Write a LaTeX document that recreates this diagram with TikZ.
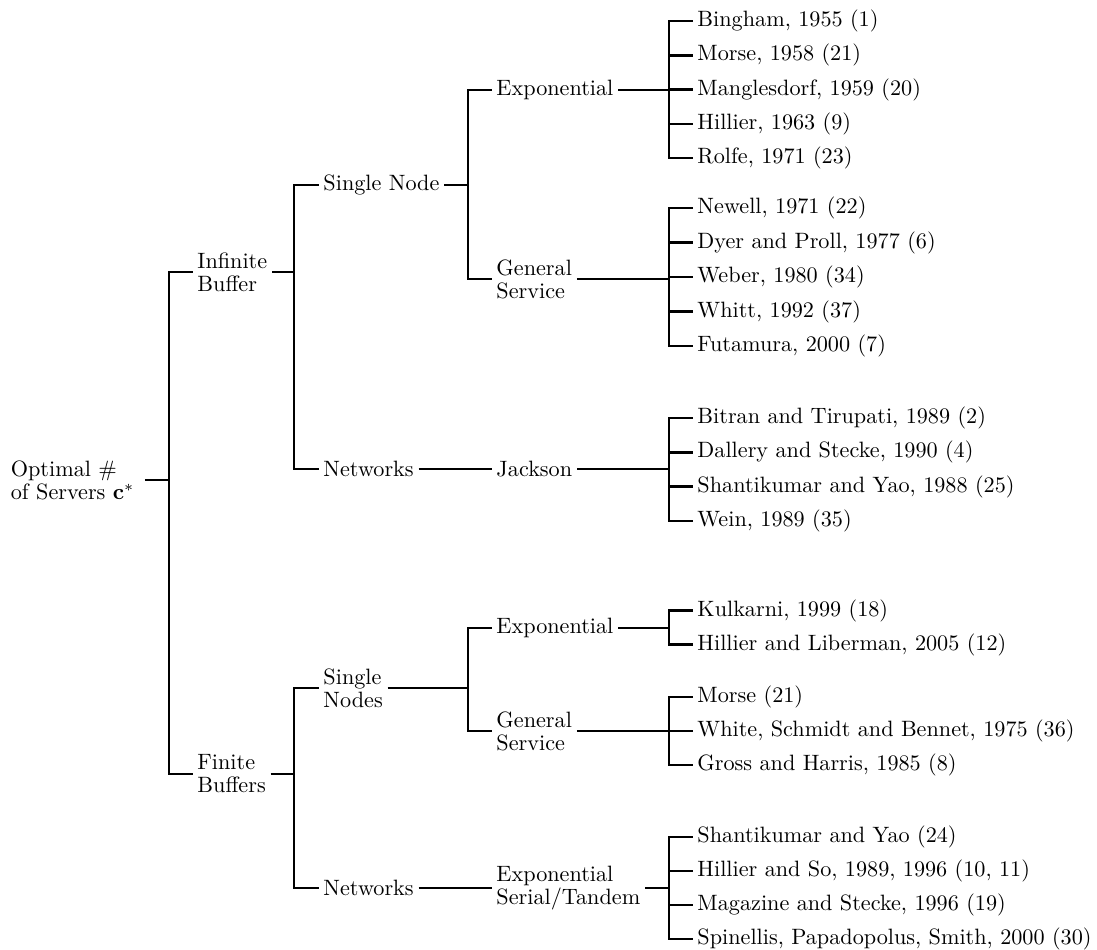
\documentclass[tikz,border=0pt]{standalone}
\begin{document}
\begin{tikzpicture}[x=0.4505pt,y=-0.4505pt,
  lab/.style={anchor=west,inner xsep=2pt,inner ysep=0pt,align=left,font=\fontsize{10}{10.4}\selectfont},
  conn/.style={line width=1.1pt}]
\useasboundingbox (0,0) rectangle (1097,949);
% root and level 1
\node[lab] (root) at (6,480) {Optimal \#\\of Servers $\mathbf{c}^*$};
\coordinate (root-s) at (169,480);
\node[lab] (ib) at (192.6,272) {Infinite\\Buffer};
\coordinate (ib-s) at (294,272);
\node[lab] (fb) at (192.6,774) {Finite\\Buffers};
\coordinate (fb-s) at (294,774);
% level 2 (infinite)
\node[lab] (sn) at (318.6,185) {Single Node};
\coordinate (sn-s) at (468,185);
\node[lab] (nw) at (318.6,469) {Networks};
\coordinate (nw-s) at (468,469);
% level 2 (finite)
\node[lab] (sns) at (318.6,688) {Single\\Nodes};
\coordinate (sns-s) at (468,688);
\node[lab] (nw2) at (318.6,888) {Networks};
\coordinate (nw2-s) at (468,888);
% level 3
\node[lab] (ex) at (491.6,90) {Exponential};
\coordinate (ex-s) at (669,90);
\node[lab] (gs) at (491.6,279) {General\\Service};
\coordinate (gs-s) at (669,279);
\node[lab] (jk) at (491.6,469) {Jackson};
\coordinate (jk-s) at (669,469);
\node[lab] (ex2) at (491.6,628) {Exponential};
\coordinate (ex2-s) at (669,628);
\node[lab] (gs2) at (491.6,731) {General\\Service};
\coordinate (gs2-s) at (669,731);
\node[lab] (est) at (491.6,888) {Exponential\\Serial/Tandem};
\coordinate (est-s) at (669,888);
% leaves
\node[lab] (l1) at (692.6,21) {Bingham, 1955 (1)};
\node[lab] (l2) at (692.6,55.3) {Morse, 1958 (21)};
\node[lab] (l3) at (692.6,89.6) {Manglesdorf, 1959 (20)};
\node[lab] (l4) at (692.6,123.9) {Hillier, 1963 (9)};
\node[lab] (l5) at (692.6,158.2) {Rolfe, 1971 (23)};
\node[lab] (l6) at (692.6,208) {Newell, 1971 (22)};
\node[lab] (l7) at (692.6,242.5) {Dyer and Proll, 1977 (6)};
\node[lab] (l8) at (692.6,277) {Weber, 1980 (34)};
\node[lab] (l9) at (692.6,311.5) {Whitt, 1992 (37)};
\node[lab] (l10) at (692.6,346) {Futamura, 2000 (7)};
\node[lab] (l11) at (692.6,418) {Bitran and Tirupati, 1989 (2)};
\node[lab] (l12) at (692.6,452.3) {Dallery and Stecke, 1990 (4)};
\node[lab] (l13) at (692.6,486.6) {Shantikumar and Yao, 1988 (25)};
\node[lab] (l14) at (692.6,520.9) {Wein, 1989 (35)};
\node[lab] (l15) at (692.6,610.5) {Kulkarni, 1999 (18)};
\node[lab] (l16) at (692.6,644.5) {Hillier and Liberman, 2005 (12)};
\node[lab] (l17) at (692.6,697) {Morse (21)};
\node[lab] (l18) at (692.6,731) {White, Schmidt and Bennet, 1975 (36)};
\node[lab] (l19) at (692.6,765) {Gross and Harris, 1985 (8)};
\node[lab] (l20) at (692.6,837) {Shantikumar and Yao (24)};
\node[lab] (l21) at (692.6,871) {Hillier and So, 1989, 1996 (10, 11)};
\node[lab] (l22) at (692.6,905) {Magazine and Stecke, 1996 (19)};
\node[lab] (l23) at (692.6,939) {Spinellis, Papadopolus, Smith, 2000 (30)};
% connectors
\draw[conn,shorten <=2.5pt] (root.east) -- (root-s);
\draw[conn] (root-s) |- (ib.west);
\draw[conn] (root-s) |- (fb.west);
\draw[conn] (ib.east) -- (ib-s);
\draw[conn] (ib-s) |- (sn.west);
\draw[conn] (ib-s) |- (nw.west);
\draw[conn] (fb.east) -- (fb-s);
\draw[conn] (fb-s) |- (sns.west);
\draw[conn] (fb-s) |- (nw2.west);
\draw[conn] (sn.east) -- (sn-s);
\draw[conn] (sn-s) |- (ex.west);
\draw[conn] (sn-s) |- (gs.west);
\draw[conn] (nw.east) -- (nw-s);
\draw[conn] (nw-s) |- (jk.west);
\draw[conn] (sns.east) -- (sns-s);
\draw[conn] (sns-s) |- (ex2.west);
\draw[conn] (sns-s) |- (gs2.west);
\draw[conn] (nw2.east) -- (nw2-s);
\draw[conn] (nw2-s) |- (est.west);
\draw[conn] (ex.east) -- (ex-s);
\foreach \l in {l1,l2,l3,l4,l5} \draw[conn] (ex-s) |- (\l.west);
\draw[conn] (gs.east) -- (gs-s);
\foreach \l in {l6,l7,l8,l9,l10} \draw[conn] (gs-s) |- (\l.west);
\draw[conn] (jk.east) -- (jk-s);
\foreach \l in {l11,l12,l13,l14} \draw[conn] (jk-s) |- (\l.west);
\draw[conn] (ex2.east) -- (ex2-s);
\foreach \l in {l15,l16} \draw[conn] (ex2-s) |- (\l.west);
\draw[conn] (gs2.east) -- (gs2-s);
\foreach \l in {l17,l18,l19} \draw[conn] (gs2-s) |- (\l.west);
\draw[conn] (est.east) -- (est-s);
\foreach \l in {l20,l21,l22,l23} \draw[conn] (est-s) |- (\l.west);
\end{tikzpicture}
\end{document}
